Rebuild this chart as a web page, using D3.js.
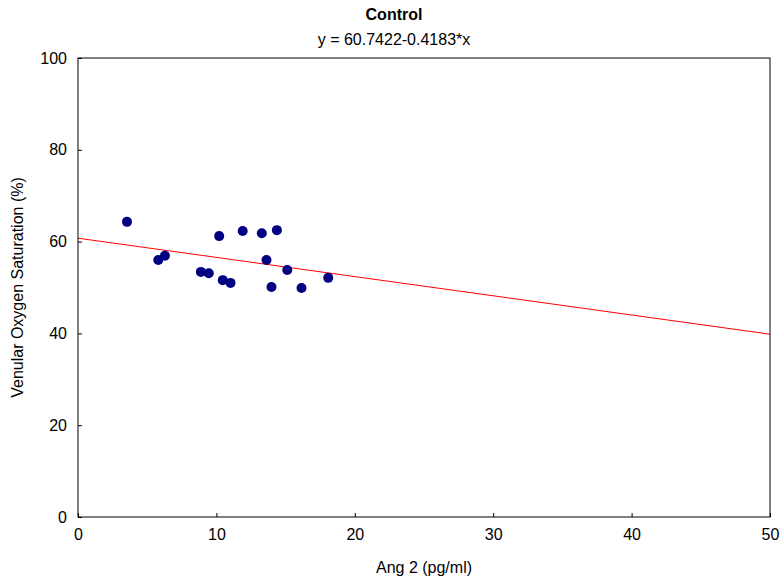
<!DOCTYPE html>
<html>
<head>
<meta charset="utf-8">
<script src="https://cdn.jsdelivr.net/npm/d3@7"></script>
<style>
  body { margin: 0; background: #fff; }
  text { font-family: "Liberation Sans", Arial, sans-serif; }
</style>
</head>
<body>
<div id="chart"></div>
<script>
// scatter data
var ang2 = [3.54, 5.80, 6.28, 8.88, 9.45, 10.2, 10.46, 11.02, 11.9, 13.28, 13.62, 13.98, 14.37, 15.12, 16.15, 18.08]
var svo2 = [64.3, 56.0, 56.9, 53.4, 53.1, 61.2, 51.6, 51.0, 62.3, 61.8, 56.0, 50.1, 62.5, 53.8, 49.9, 52.1]
var xTicks = [0, 10, 20, 30, 40, 50]
var yTicks = [0, 20, 40, 60, 80, 100]
var intercept = 60.7422
var slope = -0.4183

var margin = {top: 58, right: 11, bottom: 67, left: 78}
var width = 781 - margin.left - margin.right
var height = 584 - margin.top - margin.bottom
var fs = '16px'

var x = d3.scaleLinear().domain([0, 50]).range([0, width])
var y = d3.scaleLinear().domain([0, 100]).range([height, 0])

var root = d3.select('#chart').append('svg')
  .attr('width', 781)
  .attr('height', 584)

root.append('text')
  .attr('x', 394).attr('y', 20)
  .attr('text-anchor', 'middle')
  .style('font-size', fs).style('font-weight', 'bold')
  .text('Control')

root.append('text')
  .attr('x', 394).attr('y', 45)
  .attr('text-anchor', 'middle')
  .style('font-size', fs)
  .text('y = 60.7422-0.4183*x')

var svg = root.append('g')
  .attr('transform', 'translate(' + margin.left + ',' + margin.top + ')')

// regression line
svg.append('line')
  .attr('x1', x(0)).attr('y1', y(intercept))
  .attr('x2', x(50)).attr('y2', y(intercept + slope * 50))
  .attr('stroke', '#ff0000')
  .attr('stroke-width', 1)

svg.selectAll('circle')
  .data(ang2)
  .enter().append('circle')
  .attr('cx', function (d) { return x(d) })
  .attr('cy', function (d, i) { return y(svo2[i]) })
  .attr('r', 5)
  .attr('fill', '#000080')

// frame
svg.append('rect')
  .attr('width', width).attr('height', height)
  .attr('fill', 'none').attr('stroke', '#000').attr('stroke-width', 1)

var xAxis = svg.append('g')
  .attr('transform', 'translate(0,' + height + ')')
  .call(d3.axisBottom(x).tickValues(xTicks).tickSizeInner(-4).tickSizeOuter(0).tickPadding(12))
var yAxis = svg.append('g')
  .call(d3.axisLeft(y).tickValues(yTicks).tickSizeInner(-4).tickSizeOuter(0).tickPadding(11))

xAxis.selectAll('text').style('font-size', fs).attr('fill', '#000')
yAxis.selectAll('text').style('font-size', fs).attr('fill', '#000')
xAxis.select('.domain').remove()
yAxis.select('.domain').remove()

root.append('text')
  .attr('x', margin.left + width / 2).attr('y', 573)
  .attr('text-anchor', 'middle')
  .style('font-size', fs)
  .text('Ang 2 (pg/ml)')

root.append('text')
  .attr('transform', 'translate(23,' + (margin.top + height / 2) + ') rotate(-90)')
  .attr('text-anchor', 'middle')
  .style('font-size', fs)
  .text('Venular Oxygen Saturation (%)')
</script>
</body>
</html>
